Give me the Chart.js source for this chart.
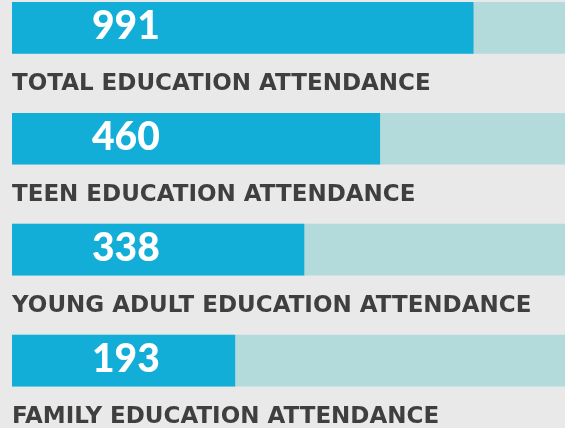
<!DOCTYPE html>
<html>
<head>
<meta charset="utf-8">
<script src="https://cdn.jsdelivr.net/npm/chart.js@4/dist/chart.umd.min.js"></script>
<style>
  html, body { margin: 0; padding: 0; background: #e9e9e9; }
  #wrap { position: relative; width: 565px; height: 428px; }
</style>
</head>
<body>
<div id="wrap"><canvas id="chart"></canvas></div>
<script>
// attendance figures shown on each bar
const counts = [991, 460, 338, 193];
// captions under each bar
const captions = [
  "TOTAL EDUCATION ATTENDANCE",
  "TEEN EDUCATION ATTENDANCE",
  "YOUNG ADULT EDUCATION ATTENDANCE",
  "FAMILY EDUCATION ATTENDANCE"
];
// filled share of each track, percent
const filledPct = [83.4, 66.5, 52.8, 40.3];
const trackPct = [100, 100, 100, 100];

const BLUE = "#13aed8";
const TRACK = "#b4dbdb";
const TEXT = "#3f3f3f";

const textPlugin = {
  id: "barText",
  afterDatasetsDraw(chart) {
    const ctx = chart.ctx;
    const meta = chart.getDatasetMeta(1);
    const left = chart.chartArea.left;
    ctx.save();
    meta.data.forEach((bar, i) => {
      const cy = bar.y;
      ctx.textAlign = "left";
      ctx.textBaseline = "alphabetic";
      ctx.fillStyle = "#ffffff";
      ctx.font = "900 39px Lato";
      ctx.fillText(String(counts[i]), left + 80, cy + 11.5);
      ctx.fillStyle = TEXT;
      ctx.font = "bold 23px 'DejaVu Sans'";
      ctx.fillText(captions[i], left, cy + 62.5);
    });
    ctx.restore();
  }
};

const rows = counts.map((_, i) => i);

new Chart(document.getElementById("chart"), {
  type: "bar",
  data: {
    datasets: [
      {
        data: rows.map(i => ({ x: trackPct[i], y: i })),
        backgroundColor: TRACK,
        order: 2
      },
      {
        data: rows.map(i => ({ x: filledPct[i], y: i })),
        backgroundColor: BLUE,
        order: 1
      }
    ]
  },
  options: {
    indexAxis: "y",
    responsive: true,
    maintainAspectRatio: false,
    animation: false,
    grouped: false,
    barThickness: 51,
    borderWidth: 0,
    layout: { padding: { left: 12, right: 0, top: 0, bottom: 0 } },
    scales: {
      x: { type: "linear", min: 0, max: 100, display: false },
      y: { type: "linear", reverse: true, offset: false, min: -0.2516, max: 3.608, display: false }
    },
    plugins: {
      legend: { display: false },
      tooltip: { enabled: false }
    }
  },
  plugins: [textPlugin]
});
</script>
</body>
</html>
